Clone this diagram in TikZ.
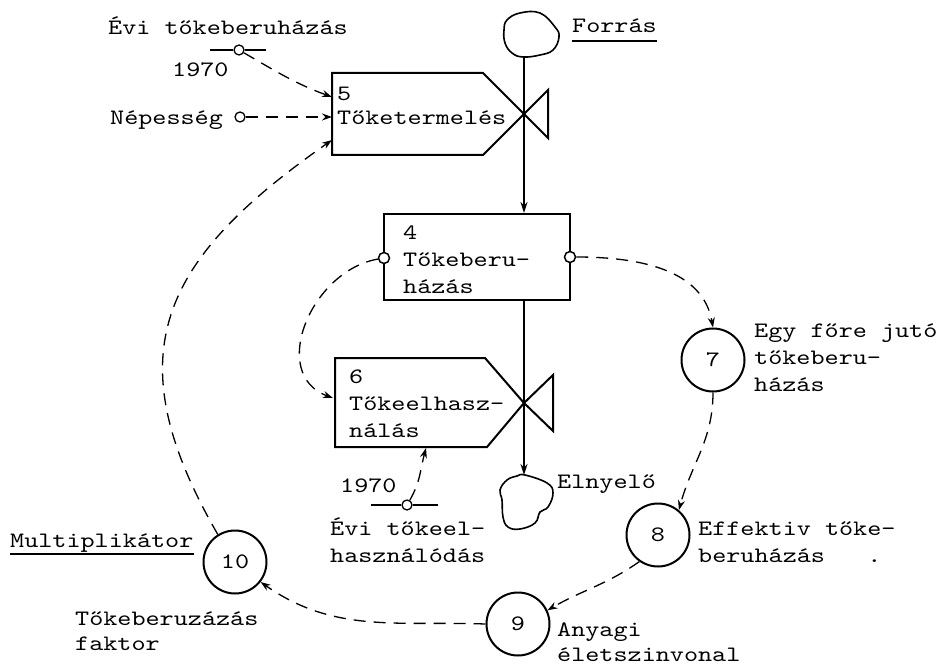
\documentclass[tikz,border=0pt]{standalone}
\usepackage{fontspec}
\newfontfamily\twface{lmmono10-regular.otf}[FakeStretch=1.22]
\usetikzlibrary{arrows.meta}
\begin{document}
\begin{tikzpicture}[x=1pt,y=1pt,
  txt/.style={font=\twface\fontsize{22}{27}\selectfont, inner sep=0pt, anchor=base west, align=left},
  outline/.style={line width=2pt, line join=miter},
  flow/.style={line width=1.8pt, -{Stealth[length=11pt,width=7pt]}},
  info/.style={line width=1.3pt, dash pattern=on 12pt off 8pt, -{Stealth[length=10pt,width=7pt]}},
  aux/.style={circle, draw, line width=2pt, minimum size=63pt, inner sep=0pt, font=\twface\fontsize{22}{27}\selectfont},
  port/.style={circle, draw, line width=1.5pt, fill=white, minimum size=11pt, inner sep=0pt},
  bar/.style={line width=1.3pt},
]
\useasboundingbox (0,0) rectangle (944,-668);

% source and sink clouds
\draw[outline, line width=1.6pt] plot[smooth cycle, tension=0.7] coordinates {(507,-20) (520,-13) (540,-13) (555,-27) (559,-37) (553,-50) (540,-55) (523,-57) (512,-53) (505,-43) (504,-30)};
\coordinate (src) at (524,-57);
\draw[outline, line width=1.6pt] plot[smooth cycle, tension=0.7] coordinates {(525,-475) (547,-483) (553,-493) (548,-507) (540,-512) (535,-523) (520,-529) (508,-527) (503,-517) (502,-500) (500,-490) (507,-480) (517,-476)};
\coordinate (snk) at (524,-475);

% rate 5 with its valve
\draw[outline] (332,-73) -- (483,-73) -- (524,-114) -- (548,-90) -- (548,-138) -- (524,-114) -- (483,-155) -- (332,-155) -- cycle;
\coordinate (r5a) at (332,-97);
\coordinate (r5b) at (332,-117);
\coordinate (r5c) at (332,-140);
\node[txt] (t5) at (337,-125) {5\\[-3pt]Tőketermelés};

% level 4
\node[draw, outline, minimum width=186pt, minimum height=86pt, inner sep=0pt] (b4) at (477,-257) {};
\node[txt] (t4) at (403,-293) {4\\Tőkeberu-\\házás};
\node[port] (p4l) at (384,-258) {};
\node[port] (p4r) at (570,-257) {};

% rate 6 with its valve
\draw[outline] (335,-358) -- (485,-358) -- (524,-403) -- (553,-375) -- (553,-431) -- (524,-403) -- (487,-447) -- (335,-447) -- cycle;
\coordinate (r6l) at (333,-398);
\coordinate (r6b) at (426,-448);
\node[txt] (t6) at (349,-437) {6\\Tőkeelhasz-\\nálás};

% material flow
\draw[flow] (src) -- (src |- b4.north);
\draw[flow] (src |- b4.south) -- (snk);
\node[txt] (forras) at (572,-33) {Forrás};
\draw[bar] ([yshift=-8pt]forras.base west) -- ([yshift=-8pt]forras.base east);
\node[txt] (elnyelo) at (557,-488) {Elnyelő};

% auxiliaries
\node[aux] (n7) at (713,-360) {7};
\node[aux] (n8) at (658,-535) {8};
\node[aux] (n9) at (518,-624) {9};
\node[aux] (n10) at (235,-562) {10};
\node[txt] (l7) at (754,-391) {Egy főre jutó\\tőkeberu-\\házás};
\node[txt] (l8) at (698,-562) {Effektiv tőke-\\beruházás\phantom{xxx}.};
\node[txt] (l9) at (557,-661) {Anyagi\\[-2pt]életszinvonal};
\node[txt] (l10) at (10,-547) {Multiplikátor};
\draw[bar] ([yshift=-7pt]l10.base west) -- ([yshift=-7pt]l10.base east);
\node[txt] (l10b) at (75,-650) {Tőkeberuzázás\\[-2pt]faktor};

% constants
\node[port, line width=1.3pt, minimum size=10pt] (c1) at (239,-50) {};
\draw[bar] (c1.west) -- ++(-23,0) (c1.east) -- ++(21,0);
\node[txt] (lc1) at (108,-35) {Évi tőkeberuházás};
\node[txt] (y1) at (172,-77) {1970};
\node[port, line width=1.3pt, minimum size=10pt] (c2) at (240,-117) {};
\node[txt] (lc2) at (110,-125) {Népesség};
\node[port, line width=1.3pt, minimum size=10pt] (c3) at (407,-505) {};
\draw[bar] (c3.west) -- ++(-30,0) (c3.east) -- ++(25,0);
\node[txt] (y3) at (340,-492) {1970};
\node[txt] (lc3) at (330,-562) {Évi tőkeel-\\használódás};

% information links
\draw[info] (c1) to[out=-30,in=160] (r5a);
\draw[info] (c2) -- (r5b);
\draw[info] (n10.122) to[out=120,in=215,looseness=1.3] (r5c);
\draw[info] (p4l) to[out=190,in=160,looseness=1.2] (r6l);
\draw[info] (p4r) to[out=0,in=100] (n7.north);
\draw[info] (n7.south) to[out=-90,in=75] (n8.50);
\draw[info] (n8.235) to[out=215,in=30] (n9.25);
\draw[info] (n9.west) to[out=178,in=-35] (n10.-38);
\draw[info] (c3) to[out=60,in=-105] (r6b);
\end{tikzpicture}
\end{document}
